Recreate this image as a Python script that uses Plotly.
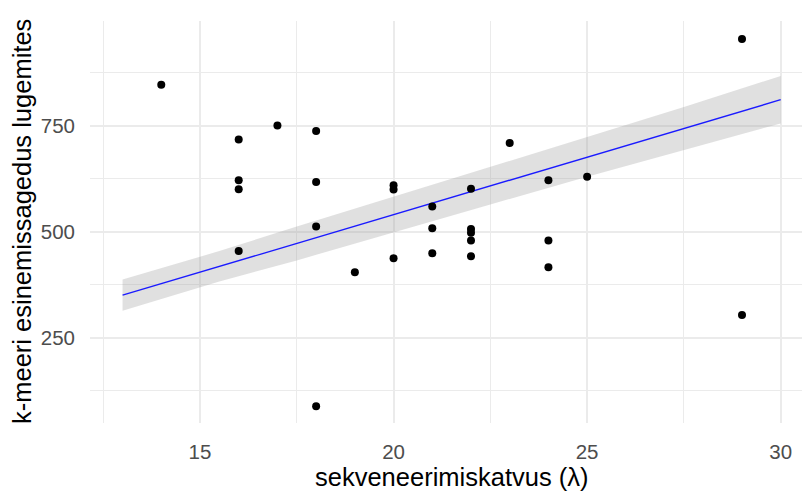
import plotly.graph_objects as go

# Observations: sequencing depth vs k-mer frequency in reads
coverage = [14, 16, 16, 16, 16, 17, 18, 18, 18, 18, 19, 20, 20, 20,
            21, 21, 21, 22, 22, 22, 22, 22, 23, 24, 24, 24, 25, 29, 29]
kmer_freq = [847, 718, 622, 601, 455, 751, 738, 618, 513, 89, 405, 610, 600, 438,
             560, 509, 450, 602, 507, 498, 480, 443, 710, 622, 480, 417, 630, 955, 304]

# Linear smoother with its confidence band
smooth_x = [13, 15.5, 17.5, 20, 22.5, 25, 27.5, 30]
smooth_fit = [351, 419, 473, 541, 609, 677, 744, 812]
smooth_lo = [314, 383, 433, 499, 565, 630, 693, 756]
smooth_hi = [388, 455, 513, 583, 653, 724, 795, 868]

x_ticks = [15, 20, 25, 30]
y_ticks = [250, 500, 750]

x_title = "sekveneerimiskatvus (λ)"
y_title = "k-meeri esinemissagedus lugemites"

fig = go.Figure()

fig.add_trace(go.Scatter(
    x=smooth_x + smooth_x[::-1],
    y=smooth_hi + smooth_lo[::-1],
    fill="toself", fillcolor="rgba(153,153,153,0.3)",
    line=dict(width=0), mode="lines", hoverinfo="skip", showlegend=False,
))
fig.add_trace(go.Scatter(
    x=smooth_x, y=smooth_fit, mode="lines",
    line=dict(color="#1a1aff", width=1.4), showlegend=False,
))
fig.add_trace(go.Scatter(
    x=coverage, y=kmer_freq, mode="markers",
    marker=dict(color="black", size=8), showlegend=False,
))

grid = "#ebebeb"
font = "Liberation Sans, Arial, sans-serif"

fig.update_layout(
    width=802, height=491,
    margin=dict(l=90, r=0, t=21, b=68),
    paper_bgcolor="white", plot_bgcolor="white",
    font=dict(family=font),
    xaxis=dict(
        range=[12.159, 30.55], tickvals=x_ticks, ticktext=[str(v) for v in x_ticks],
        showgrid=True, gridcolor=grid, gridwidth=1.6, zeroline=False, showline=False,
        ticks="", ticklabelstandoff=14,
        tickfont=dict(size=20.5, color="#4d4d4d", family=font),
        minor=dict(dtick=2.5, tick0=0, showgrid=True, gridcolor=grid, gridwidth=1.1),
    ),
    yaxis=dict(
        range=[49.5, 997.6], tickvals=y_ticks, ticktext=[str(v) for v in y_ticks],
        showgrid=True, gridcolor=grid, gridwidth=1.6, zeroline=False, showline=False,
        ticks="", ticklabelstandoff=14,
        tickfont=dict(size=20.5, color="#4d4d4d", family=font),
        minor=dict(dtick=125, tick0=0, showgrid=True, gridcolor=grid, gridwidth=1.1),
    ),
    annotations=[
        # axis titles, centred on the full (expanded) panel
        dict(text=x_title, xref="x", yref="paper", x=21.5, y=-0.1336,
             xanchor="center", yanchor="middle", showarrow=False,
             font=dict(size=25.5, color="black", family=font)),
        dict(text=y_title, xref="paper", yref="paper", x=-0.0955, y=0.5,
             xanchor="center", yanchor="middle", textangle=-90, showarrow=False,
             font=dict(size=25.5, color="black", family=font)),
    ],
)

fig.write_html("out.html")
